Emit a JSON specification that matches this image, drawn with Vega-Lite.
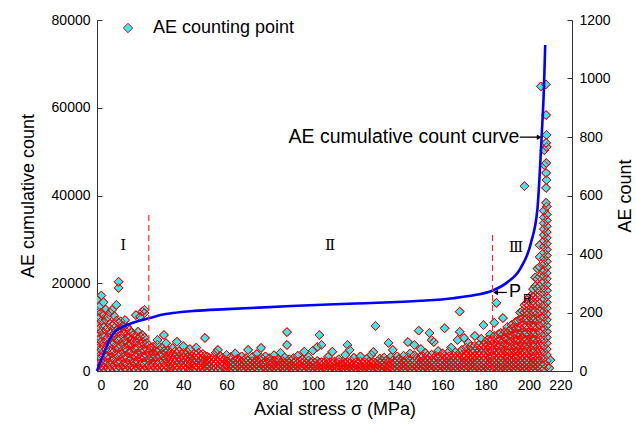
{
"$schema":"https://vega.github.io/schema/vega-lite/v6.json",
"autosize":"none",
"width":475,"height":351,
"padding":{"left":97,"top":20,"right":64,"bottom":54},
"config":{"font":"Liberation Sans","view":{"stroke":null},
"axis":{"grid":false,"domainColor":"#333","tickColor":"#333","labelColor":"#000","titleColor":"#000","labelFontSize":14,"titleFontSize":18,"titleFontWeight":"normal","tickSize":-5,"labelPadding":12,"format":"d"}},
"datasets":{
"pts":[
{"s":0,"n":2},{"s":0,"n":18},{"s":0,"n":40},{"s":0,"n":65},{"s":0,"n":95},{"s":0,"n":130},{"s":0,"n":165},{"s":0,"n":205},{"s":0,"n":245},
{"s":1,"n":6},{"s":1,"n":25},{"s":1,"n":50},{"s":1,"n":80},{"s":1,"n":110},{"s":1,"n":145},{"s":1,"n":180},{"s":1,"n":220},
{"s":2,"n":4},{"s":2,"n":20},{"s":2,"n":45},{"s":2,"n":72},{"s":2,"n":100},{"s":2,"n":135},{"s":2,"n":170},{"s":2,"n":200},{"s":2,"n":258},
{"s":3,"n":8},{"s":3,"n":30},{"s":3,"n":55},{"s":3,"n":85},{"s":3,"n":118},{"s":3,"n":150},{"s":3,"n":190},{"s":3,"n":235},
{"s":4,"n":3},{"s":4,"n":22},{"s":4,"n":48},{"s":4,"n":75},{"s":4,"n":105},{"s":4,"n":140},{"s":4,"n":175},{"s":4,"n":210},
{"s":5,"n":10},{"s":5,"n":28},{"s":5,"n":52},{"s":5,"n":88},{"s":5,"n":115},{"s":5,"n":148},{"s":5,"n":185},
{"s":6,"n":5},{"s":6,"n":24},{"s":6,"n":46},{"s":6,"n":70},{"s":6,"n":98},{"s":6,"n":130},{"s":6,"n":162},{"s":6,"n":200},
{"s":7,"n":12},{"s":7,"n":33},{"s":7,"n":60},{"s":7,"n":90},{"s":7,"n":120},{"s":7,"n":155},{"s":7,"n":209},
{"s":8,"n":2},{"s":8,"n":20},{"s":8,"n":42},{"s":8,"n":68},{"s":8,"n":95},{"s":8,"n":128},{"s":8,"n":160},{"s":8,"n":188},
{"s":9,"n":9},{"s":9,"n":30},{"s":9,"n":55},{"s":9,"n":82},{"s":9,"n":110},{"s":9,"n":140},{"s":9,"n":172},{"s":9,"n":226},
{"s":10,"n":4},{"s":10,"n":26},{"s":10,"n":50},{"s":10,"n":78},{"s":10,"n":105},{"s":10,"n":135},{"s":10,"n":165},{"s":10,"n":284},{"s":10,"n":305},
{"s":11,"n":11},{"s":11,"n":32},{"s":11,"n":58},{"s":11,"n":86},{"s":11,"n":112},{"s":11,"n":145},{"s":11,"n":170},
{"s":12,"n":3},{"s":12,"n":22},{"s":12,"n":47},{"s":12,"n":73},{"s":12,"n":100},{"s":12,"n":128},{"s":12,"n":155},
{"s":13,"n":8},{"s":13,"n":28},{"s":13,"n":52},{"s":13,"n":80},{"s":13,"n":108},{"s":13,"n":138},{"s":13,"n":174},
{"s":14,"n":5},{"s":14,"n":24},{"s":14,"n":45},{"s":14,"n":70},{"s":14,"n":96},{"s":14,"n":125},{"s":14,"n":150},
{"s":15,"n":12},{"s":15,"n":34},{"s":15,"n":60},{"s":15,"n":88},{"s":15,"n":115},{"s":15,"n":140},
{"s":16,"n":2},{"s":16,"n":20},{"s":16,"n":43},{"s":16,"n":66},{"s":16,"n":92},{"s":16,"n":106},{"s":16,"n":130},
{"s":17,"n":9},{"s":17,"n":30},{"s":17,"n":54},{"s":17,"n":78},{"s":17,"n":104},{"s":17,"n":125},
{"s":18,"n":4},{"s":18,"n":25},{"s":18,"n":48},{"s":18,"n":72},{"s":18,"n":98},{"s":18,"n":120},{"s":18,"n":191},
{"s":19,"n":10},{"s":19,"n":32},{"s":19,"n":56},{"s":19,"n":80},{"s":19,"n":110},{"s":19,"n":134},
{"s":20,"n":3},{"s":20,"n":22},{"s":20,"n":45},{"s":20,"n":68},{"s":20,"n":94},{"s":20,"n":118},{"s":20,"n":185},
{"s":21,"n":8},{"s":21,"n":28},{"s":21,"n":50},{"s":21,"n":75},{"s":21,"n":100},{"s":21,"n":123},{"s":21,"n":203},
{"s":22,"n":5},{"s":22,"n":24},{"s":22,"n":46},{"s":22,"n":70},{"s":22,"n":92},{"s":22,"n":114},{"s":22,"n":198},{"s":22,"n":209},
{"s":23,"n":11},{"s":23,"n":30},{"s":23,"n":52},{"s":23,"n":74},{"s":23,"n":96},
{"s":24,"n":2},{"s":24,"n":20},{"s":24,"n":42},{"s":24,"n":64},{"s":24,"n":88},
{"s":25,"n":7},{"s":25,"n":26},{"s":25,"n":48},{"s":25,"n":70},{"s":25,"n":78},
{"s":26,"n":3},{"s":26,"n":20},{"s":26,"n":40},{"s":26,"n":60},{"s":26,"n":83},
{"s":27,"n":9},{"s":27,"n":28},{"s":27,"n":48},{"s":27,"n":70},
{"s":28,"n":5},{"s":28,"n":22},{"s":28,"n":44},{"s":28,"n":66},{"s":28,"n":90},{"s":28,"n":106},
{"s":29,"n":12},{"s":29,"n":30},{"s":29,"n":52},{"s":29,"n":72},
{"s":30,"n":2},{"s":30,"n":18},{"s":30,"n":38},{"s":30,"n":58},{"s":30,"n":80},
{"s":31,"n":8},{"s":31,"n":26},{"s":31,"n":46},{"s":31,"n":68},{"s":31,"n":123},
{"s":32,"n":4},{"s":32,"n":22},{"s":32,"n":42},{"s":32,"n":62},{"s":32,"n":95},
{"s":33,"n":10},{"s":33,"n":30},{"s":33,"n":50},{"s":33,"n":70},
{"s":34,"n":6},{"s":34,"n":24},{"s":34,"n":44},{"s":34,"n":64},
{"s":35,"n":2},{"s":35,"n":18},{"s":35,"n":36},{"s":35,"n":56},{"s":35,"n":78},
{"s":36,"n":9},{"s":36,"n":28},{"s":36,"n":46},{"s":36,"n":66},
{"s":37,"n":4},{"s":37,"n":20},{"s":37,"n":40},{"s":37,"n":60},{"s":37,"n":100},
{"s":38,"n":11},{"s":38,"n":30},{"s":38,"n":48},{"s":38,"n":68},
{"s":39,"n":5},{"s":39,"n":22},{"s":39,"n":40},{"s":39,"n":58},
{"s":40,"n":8},{"s":40,"n":26},{"s":40,"n":44},{"s":40,"n":62},{"s":40,"n":85},
{"s":41,"n":3},{"s":41,"n":18},{"s":41,"n":36},{"s":41,"n":54},
{"s":42,"n":10},{"s":42,"n":28},{"s":42,"n":46},{"s":42,"n":64},
{"s":43,"n":6},{"s":43,"n":22},{"s":43,"n":40},{"s":43,"n":56},{"s":43,"n":75},
{"s":44,"n":2},{"s":44,"n":18},{"s":44,"n":34},{"s":44,"n":52},
{"s":45,"n":9},{"s":45,"n":26},{"s":45,"n":44},{"s":45,"n":60},
{"s":46,"n":4},{"s":46,"n":20},{"s":46,"n":38},{"s":46,"n":55},{"s":46,"n":80},
{"s":47,"n":12},{"s":47,"n":28},{"s":47,"n":46},{"s":47,"n":62},
{"s":48,"n":5},{"s":48,"n":22},{"s":48,"n":38},{"s":48,"n":54},
{"s":49,"n":8},{"s":49,"n":24},{"s":49,"n":42},{"s":49,"n":58},
{"s":50,"n":3},{"s":50,"n":18},{"s":50,"n":36},{"s":50,"n":52},{"s":50,"n":113},
{"s":51,"n":6},{"s":51,"n":20},{"s":51,"n":36},{"s":51,"n":50},
{"s":52,"n":2},{"s":52,"n":16},{"s":52,"n":30},{"s":52,"n":44},
{"s":53,"n":9},{"s":53,"n":24},{"s":53,"n":38},
{"s":54,"n":4},{"s":54,"n":18},{"s":54,"n":32},{"s":54,"n":48},
{"s":55,"n":11},{"s":55,"n":26},{"s":55,"n":40},{"s":55,"n":62},
{"s":56,"n":5},{"s":56,"n":18},{"s":56,"n":34},{"s":56,"n":72},
{"s":57,"n":8},{"s":57,"n":22},{"s":57,"n":38},{"s":57,"n":52},
{"s":58,"n":3},{"s":58,"n":16},{"s":58,"n":30},{"s":58,"n":44},
{"s":59,"n":10},{"s":59,"n":24},{"s":59,"n":40},
{"s":60,"n":6},{"s":60,"n":20},{"s":60,"n":34},{"s":60,"n":55},
{"s":61,"n":2},{"s":61,"n":15},{"s":61,"n":30},
{"s":62,"n":9},{"s":62,"n":24},{"s":62,"n":38},{"s":62,"n":48},
{"s":63,"n":4},{"s":63,"n":18},{"s":63,"n":32},
{"s":64,"n":7},{"s":64,"n":22},{"s":64,"n":36},{"s":64,"n":60},
{"s":65,"n":3},{"s":65,"n":16},{"s":65,"n":28},{"s":65,"n":42},
{"s":66,"n":10},{"s":66,"n":24},{"s":66,"n":38},
{"s":67,"n":5},{"s":67,"n":18},{"s":67,"n":32},{"s":67,"n":50},
{"s":68,"n":8},{"s":68,"n":22},{"s":68,"n":36},
{"s":69,"n":2},{"s":69,"n":14},{"s":69,"n":28},{"s":69,"n":44},
{"s":70,"n":9},{"s":70,"n":22},{"s":70,"n":36},{"s":70,"n":72},
{"s":71,"n":4},{"s":71,"n":18},{"s":71,"n":30},
{"s":72,"n":7},{"s":72,"n":20},{"s":72,"n":34},{"s":72,"n":48},
{"s":73,"n":3},{"s":73,"n":15},{"s":73,"n":28},
{"s":74,"n":10},{"s":74,"n":24},{"s":74,"n":38},{"s":74,"n":58},
{"s":75,"n":5},{"s":75,"n":18},{"s":75,"n":30},
{"s":76,"n":8},{"s":76,"n":22},{"s":76,"n":36},{"s":76,"n":46},{"s":76,"n":79},
{"s":77,"n":2},{"s":77,"n":14},{"s":77,"n":26},
{"s":78,"n":9},{"s":78,"n":22},{"s":78,"n":34},{"s":78,"n":50},
{"s":79,"n":4},{"s":79,"n":16},{"s":79,"n":30},
{"s":80,"n":7},{"s":80,"n":20},{"s":80,"n":32},{"s":80,"n":44},
{"s":81,"n":3},{"s":81,"n":14},{"s":81,"n":26},
{"s":82,"n":10},{"s":82,"n":22},{"s":82,"n":36},{"s":82,"n":54},
{"s":83,"n":5},{"s":83,"n":18},{"s":83,"n":30},
{"s":84,"n":8},{"s":84,"n":20},{"s":84,"n":32},{"s":84,"n":42},
{"s":85,"n":2},{"s":85,"n":14},{"s":85,"n":28},{"s":85,"n":62},
{"s":86,"n":9},{"s":86,"n":22},{"s":86,"n":34},
{"s":87,"n":4},{"s":87,"n":16},{"s":87,"n":30},{"s":87,"n":46},
{"s":88,"n":7},{"s":88,"n":20},{"s":88,"n":32},{"s":88,"n":89},{"s":88,"n":133},
{"s":89,"n":3},{"s":89,"n":14},{"s":89,"n":26},{"s":89,"n":40},
{"s":90,"n":10},{"s":90,"n":22},{"s":90,"n":36},
{"s":91,"n":5},{"s":91,"n":16},{"s":91,"n":28},{"s":91,"n":44},
{"s":92,"n":8},{"s":92,"n":20},{"s":92,"n":32},
{"s":93,"n":2},{"s":93,"n":14},{"s":93,"n":26},{"s":93,"n":52},
{"s":94,"n":9},{"s":94,"n":22},{"s":94,"n":34},
{"s":95,"n":4},{"s":95,"n":16},{"s":95,"n":28},{"s":95,"n":40},
{"s":96,"n":7},{"s":96,"n":20},{"s":96,"n":32},{"s":96,"n":66},
{"s":97,"n":3},{"s":97,"n":14},{"s":97,"n":26},
{"s":98,"n":10},{"s":98,"n":22},{"s":98,"n":36},{"s":98,"n":48},
{"s":99,"n":5},{"s":99,"n":16},{"s":99,"n":30},
{"s":100,"n":8},{"s":100,"n":20},{"s":100,"n":32},{"s":100,"n":70},
{"s":101,"n":3},{"s":101,"n":14},{"s":101,"n":28},
{"s":102,"n":9},{"s":102,"n":20},{"s":102,"n":34},{"s":102,"n":82},
{"s":103,"n":4},{"s":103,"n":16},{"s":103,"n":28},{"s":103,"n":123},
{"s":104,"n":7},{"s":104,"n":18},{"s":104,"n":30},{"s":104,"n":89},
{"s":105,"n":2},{"s":105,"n":12},{"s":105,"n":26},
{"s":106,"n":10},{"s":106,"n":22},{"s":106,"n":34},
{"s":107,"n":5},{"s":107,"n":16},{"s":107,"n":28},{"s":107,"n":48},
{"s":108,"n":8},{"s":108,"n":18},{"s":108,"n":30},
{"s":109,"n":3},{"s":109,"n":14},{"s":109,"n":26},{"s":109,"n":66},
{"s":110,"n":9},{"s":110,"n":20},{"s":110,"n":32},
{"s":111,"n":4},{"s":111,"n":16},{"s":111,"n":28},
{"s":112,"n":7},{"s":112,"n":18},{"s":112,"n":30},{"s":112,"n":40},
{"s":113,"n":2},{"s":113,"n":12},{"s":113,"n":24},
{"s":114,"n":10},{"s":114,"n":22},{"s":114,"n":32},
{"s":115,"n":5},{"s":115,"n":16},{"s":115,"n":28},{"s":115,"n":55},
{"s":116,"n":8},{"s":116,"n":18},{"s":116,"n":30},{"s":116,"n":89},
{"s":117,"n":3},{"s":117,"n":14},{"s":117,"n":26},{"s":117,"n":72},
{"s":118,"n":9},{"s":118,"n":20},{"s":118,"n":32},
{"s":119,"n":4},{"s":119,"n":14},{"s":119,"n":26},{"s":119,"n":45},
{"s":120,"n":7},{"s":120,"n":18},{"s":120,"n":30},
{"s":121,"n":2},{"s":121,"n":12},{"s":121,"n":24},
{"s":122,"n":10},{"s":122,"n":20},{"s":122,"n":32},{"s":122,"n":50},
{"s":123,"n":5},{"s":123,"n":16},{"s":123,"n":28},
{"s":124,"n":8},{"s":124,"n":18},{"s":124,"n":30},
{"s":125,"n":3},{"s":125,"n":14},{"s":125,"n":26},{"s":125,"n":42},
{"s":126,"n":9},{"s":126,"n":20},{"s":126,"n":32},
{"s":127,"n":4},{"s":127,"n":16},{"s":127,"n":28},{"s":127,"n":55},
{"s":128,"n":7},{"s":128,"n":18},{"s":128,"n":30},{"s":128,"n":65},
{"s":129,"n":2},{"s":129,"n":12},{"s":129,"n":26},{"s":129,"n":154},
{"s":130,"n":10},{"s":130,"n":22},{"s":130,"n":34},
{"s":131,"n":5},{"s":131,"n":16},{"s":131,"n":30},{"s":131,"n":42},
{"s":132,"n":8},{"s":132,"n":20},{"s":132,"n":34},
{"s":133,"n":3},{"s":133,"n":14},{"s":133,"n":28},{"s":133,"n":46},
{"s":134,"n":10},{"s":134,"n":22},{"s":134,"n":36},
{"s":135,"n":6},{"s":135,"n":18},{"s":135,"n":32},{"s":135,"n":96},
{"s":136,"n":2},{"s":136,"n":14},{"s":136,"n":28},{"s":136,"n":48},
{"s":137,"n":9},{"s":137,"n":22},{"s":137,"n":36},{"s":137,"n":72},
{"s":138,"n":4},{"s":138,"n":16},{"s":138,"n":30},
{"s":139,"n":7},{"s":139,"n":20},{"s":139,"n":34},{"s":139,"n":50},
{"s":140,"n":3},{"s":140,"n":14},{"s":140,"n":28},{"s":140,"n":42},
{"s":141,"n":10},{"s":141,"n":22},{"s":141,"n":36},
{"s":142,"n":5},{"s":142,"n":18},{"s":142,"n":32},{"s":142,"n":52},
{"s":143,"n":8},{"s":143,"n":20},{"s":143,"n":34},
{"s":144,"n":2},{"s":144,"n":14},{"s":144,"n":28},{"s":144,"n":46},{"s":144,"n":99},
{"s":145,"n":9},{"s":145,"n":22},{"s":145,"n":36},{"s":145,"n":60},
{"s":146,"n":4},{"s":146,"n":16},{"s":146,"n":30},
{"s":147,"n":7},{"s":147,"n":20},{"s":147,"n":34},{"s":147,"n":54},{"s":147,"n":89},
{"s":148,"n":3},{"s":148,"n":14},{"s":148,"n":28},{"s":148,"n":44},
{"s":149,"n":10},{"s":149,"n":22},{"s":149,"n":36},{"s":149,"n":138},
{"s":150,"n":5},{"s":150,"n":18},{"s":150,"n":32},{"s":150,"n":50},{"s":150,"n":75},
{"s":151,"n":8},{"s":151,"n":20},{"s":151,"n":34},{"s":151,"n":50},
{"s":152,"n":3},{"s":152,"n":14},{"s":152,"n":28},{"s":152,"n":42},{"s":152,"n":62},
{"s":153,"n":10},{"s":153,"n":22},{"s":153,"n":36},{"s":153,"n":52},
{"s":154,"n":5},{"s":154,"n":18},{"s":154,"n":30},{"s":154,"n":46},{"s":154,"n":130},
{"s":155,"n":8},{"s":155,"n":20},{"s":155,"n":34},{"s":155,"n":56},{"s":155,"n":106},
{"s":156,"n":2},{"s":156,"n":14},{"s":156,"n":28},{"s":156,"n":44},{"s":156,"n":99},
{"s":157,"n":9},{"s":157,"n":22},{"s":157,"n":36},{"s":157,"n":52},
{"s":158,"n":4},{"s":158,"n":16},{"s":158,"n":30},{"s":158,"n":48},{"s":158,"n":68},
{"s":159,"n":7},{"s":159,"n":20},{"s":159,"n":34},{"s":159,"n":50},
{"s":160,"n":3},{"s":160,"n":14},{"s":160,"n":28},{"s":160,"n":44},{"s":160,"n":60},
{"s":161,"n":10},{"s":161,"n":22},{"s":161,"n":36},{"s":161,"n":52},{"s":161,"n":146},
{"s":162,"n":5},{"s":162,"n":18},{"s":162,"n":32},{"s":162,"n":48},
{"s":163,"n":8},{"s":163,"n":20},{"s":163,"n":34},{"s":163,"n":50},{"s":163,"n":66},
{"s":164,"n":2},{"s":164,"n":14},{"s":164,"n":28},{"s":164,"n":44},{"s":164,"n":80},
{"s":165,"n":9},{"s":165,"n":22},{"s":165,"n":36},{"s":165,"n":52},
{"s":166,"n":4},{"s":166,"n":16},{"s":166,"n":30},{"s":166,"n":46},{"s":166,"n":64},
{"s":167,"n":7},{"s":167,"n":20},{"s":167,"n":34},{"s":167,"n":50},{"s":167,"n":106},
{"s":168,"n":3},{"s":168,"n":14},{"s":168,"n":28},{"s":168,"n":44},{"s":168,"n":62},{"s":168,"n":134},{"s":168,"n":203},
{"s":169,"n":10},{"s":169,"n":22},{"s":169,"n":36},{"s":169,"n":54},{"s":169,"n":72},
{"s":170,"n":5},{"s":170,"n":18},{"s":170,"n":32},{"s":170,"n":48},{"s":170,"n":113},
{"s":171,"n":8},{"s":171,"n":20},{"s":171,"n":34},{"s":171,"n":50},{"s":171,"n":66},{"s":171,"n":80},
{"s":172,"n":3},{"s":172,"n":14},{"s":172,"n":28},{"s":172,"n":44},{"s":172,"n":60},{"s":172,"n":96},
{"s":173,"n":10},{"s":173,"n":22},{"s":173,"n":36},{"s":173,"n":52},{"s":173,"n":70},{"s":173,"n":84},
{"s":174,"n":5},{"s":174,"n":18},{"s":174,"n":32},{"s":174,"n":48},{"s":174,"n":64},
{"s":175,"n":8},{"s":175,"n":20},{"s":175,"n":34},{"s":175,"n":50},{"s":175,"n":68},{"s":175,"n":86},{"s":175,"n":120},
{"s":176,"n":2},{"s":176,"n":14},{"s":176,"n":28},{"s":176,"n":44},{"s":176,"n":60},{"s":176,"n":78},
{"s":177,"n":9},{"s":177,"n":22},{"s":177,"n":36},{"s":177,"n":52},{"s":177,"n":70},{"s":177,"n":90},
{"s":178,"n":4},{"s":178,"n":16},{"s":178,"n":30},{"s":178,"n":46},{"s":178,"n":62},{"s":178,"n":80},{"s":178,"n":110},
{"s":179,"n":7},{"s":179,"n":20},{"s":179,"n":34},{"s":179,"n":50},{"s":179,"n":68},{"s":179,"n":88},{"s":179,"n":157},
{"s":180,"n":3},{"s":180,"n":14},{"s":180,"n":28},{"s":180,"n":44},{"s":180,"n":62},{"s":180,"n":82},{"s":180,"n":100},
{"s":181,"n":10},{"s":181,"n":22},{"s":181,"n":36},{"s":181,"n":52},{"s":181,"n":70},{"s":181,"n":88},{"s":181,"n":108},
{"s":182,"n":5},{"s":182,"n":18},{"s":182,"n":32},{"s":182,"n":48},{"s":182,"n":66},{"s":182,"n":84},{"s":182,"n":104},{"s":182,"n":125},
{"s":183,"n":8},{"s":183,"n":20},{"s":183,"n":34},{"s":183,"n":50},{"s":183,"n":68},{"s":183,"n":86},{"s":183,"n":106},
{"s":184,"n":2},{"s":184,"n":14},{"s":184,"n":28},{"s":184,"n":44},{"s":184,"n":62},{"s":184,"n":80},{"s":184,"n":100},{"s":184,"n":120},{"s":184,"n":165},
{"s":185,"n":9},{"s":185,"n":22},{"s":185,"n":36},{"s":185,"n":52},{"s":185,"n":70},{"s":185,"n":88},{"s":185,"n":110},{"s":185,"n":233},
{"s":186,"n":4},{"s":186,"n":16},{"s":186,"n":30},{"s":186,"n":46},{"s":186,"n":64},{"s":186,"n":84},{"s":186,"n":104},{"s":186,"n":126},
{"s":187,"n":7},{"s":187,"n":20},{"s":187,"n":34},{"s":187,"n":50},{"s":187,"n":68},{"s":187,"n":88},{"s":187,"n":108},{"s":187,"n":130},
{"s":188,"n":3},{"s":188,"n":14},{"s":188,"n":28},{"s":188,"n":44},{"s":188,"n":62},{"s":188,"n":82},{"s":188,"n":102},{"s":188,"n":124},{"s":188,"n":181},
{"s":189,"n":10},{"s":189,"n":22},{"s":189,"n":36},{"s":189,"n":52},{"s":189,"n":70},{"s":189,"n":90},{"s":189,"n":112},{"s":189,"n":134},
{"s":190,"n":5},{"s":190,"n":18},{"s":190,"n":32},{"s":190,"n":48},{"s":190,"n":66},{"s":190,"n":86},{"s":190,"n":108},{"s":190,"n":130},{"s":190,"n":150},
{"s":191,"n":8},{"s":191,"n":20},{"s":191,"n":34},{"s":191,"n":50},{"s":191,"n":66},{"s":191,"n":84},{"s":191,"n":102},{"s":191,"n":122},{"s":191,"n":140},
{"s":192,"n":3},{"s":192,"n":14},{"s":192,"n":28},{"s":192,"n":44},{"s":192,"n":62},{"s":192,"n":80},{"s":192,"n":100},{"s":192,"n":120},{"s":192,"n":145},{"s":192,"n":157},
{"s":193,"n":10},{"s":193,"n":22},{"s":193,"n":36},{"s":193,"n":52},{"s":193,"n":70},{"s":193,"n":88},{"s":193,"n":108},{"s":193,"n":128},{"s":193,"n":150},
{"s":194,"n":5},{"s":194,"n":18},{"s":194,"n":32},{"s":194,"n":48},{"s":194,"n":66},{"s":194,"n":84},{"s":194,"n":104},{"s":194,"n":124},{"s":194,"n":146},{"s":194,"n":168},
{"s":195,"n":8},{"s":195,"n":20},{"s":195,"n":34},{"s":195,"n":50},{"s":195,"n":68},{"s":195,"n":86},{"s":195,"n":106},{"s":195,"n":128},{"s":195,"n":150},{"s":195,"n":172},
{"s":196,"n":2},{"s":196,"n":14},{"s":196,"n":28},{"s":196,"n":44},{"s":196,"n":62},{"s":196,"n":82},{"s":196,"n":102},{"s":196,"n":124},{"s":196,"n":148},{"s":196,"n":176},{"s":196,"n":200},
{"s":197,"n":9},{"s":197,"n":22},{"s":197,"n":36},{"s":197,"n":52},{"s":197,"n":70},{"s":197,"n":90},{"s":197,"n":110},{"s":197,"n":132},{"s":197,"n":156},{"s":197,"n":180},{"s":197,"n":205},
{"s":198,"n":4},{"s":198,"n":16},{"s":198,"n":30},{"s":198,"n":46},{"s":198,"n":64},{"s":198,"n":84},{"s":198,"n":104},{"s":198,"n":126},{"s":198,"n":150},{"s":198,"n":175},{"s":198,"n":200},{"s":198,"n":225},{"s":198,"n":632},
{"s":199,"n":7},{"s":199,"n":20},{"s":199,"n":34},{"s":199,"n":50},{"s":199,"n":68},{"s":199,"n":88},{"s":199,"n":108},{"s":199,"n":130},{"s":199,"n":154},{"s":199,"n":178},{"s":199,"n":204},{"s":199,"n":230},
{"s":200,"n":3},{"s":200,"n":14},{"s":200,"n":28},{"s":200,"n":44},{"s":200,"n":62},{"s":200,"n":82},{"s":200,"n":102},{"s":200,"n":124},{"s":200,"n":148},{"s":200,"n":172},{"s":200,"n":198},{"s":200,"n":225},{"s":200,"n":250},
{"s":201,"n":10},{"s":201,"n":22},{"s":201,"n":36},{"s":201,"n":52},{"s":201,"n":70},{"s":201,"n":90},{"s":201,"n":110},{"s":201,"n":132},{"s":201,"n":156},{"s":201,"n":180},{"s":201,"n":206},{"s":201,"n":232},{"s":201,"n":258},
{"s":202,"n":5},{"s":202,"n":18},{"s":202,"n":32},{"s":202,"n":48},{"s":202,"n":66},{"s":202,"n":86},{"s":202,"n":106},{"s":202,"n":128},{"s":202,"n":152},{"s":202,"n":176},{"s":202,"n":202},{"s":202,"n":228},{"s":202,"n":255},{"s":202,"n":280},
{"s":203,"n":8},{"s":203,"n":20},{"s":203,"n":34},{"s":203,"n":50},{"s":203,"n":68},{"s":203,"n":88},{"s":203,"n":108},{"s":203,"n":130},{"s":203,"n":154},{"s":203,"n":178},{"s":203,"n":204},{"s":203,"n":230},{"s":203,"n":258},{"s":203,"n":290},{"s":203,"n":320},
{"s":204,"n":2},{"s":204,"n":14},{"s":204,"n":28},{"s":204,"n":44},{"s":204,"n":62},{"s":204,"n":82},{"s":204,"n":102},{"s":204,"n":124},{"s":204,"n":148},{"s":204,"n":172},{"s":204,"n":198},{"s":204,"n":224},{"s":204,"n":252},{"s":204,"n":282},{"s":204,"n":315},{"s":204,"n":350},
{"s":205,"n":9},{"s":205,"n":22},{"s":205,"n":36},{"s":205,"n":52},{"s":205,"n":70},{"s":205,"n":90},{"s":205,"n":110},{"s":205,"n":132},{"s":205,"n":156},{"s":205,"n":180},{"s":205,"n":206},{"s":205,"n":232},{"s":205,"n":260},{"s":205,"n":290},{"s":205,"n":322},{"s":205,"n":356},{"s":205,"n":390},{"s":205,"n":430},
{"s":207,"n":5},{"s":208.3,"n":15},{"s":207,"n":25},{"s":208.3,"n":35},{"s":207,"n":45},{"s":208.3,"n":55},{"s":207,"n":65},{"s":208.3,"n":75},{"s":207,"n":85},{"s":208.3,"n":95},
{"s":207,"n":105},{"s":208.3,"n":115},{"s":207,"n":125},{"s":208.3,"n":135},{"s":207,"n":145},{"s":208.3,"n":155},{"s":207,"n":165},{"s":208.3,"n":175},{"s":207,"n":185},{"s":208.3,"n":195},
{"s":207,"n":205},{"s":208.3,"n":215},{"s":207,"n":225},{"s":208.3,"n":235},{"s":207,"n":245},{"s":208.3,"n":255},{"s":207,"n":265},{"s":208.3,"n":275},{"s":207,"n":285},{"s":208.3,"n":295},
{"s":207,"n":305},{"s":208.3,"n":315},{"s":207,"n":325},{"s":208.3,"n":335},{"s":207,"n":345},{"s":208.3,"n":355},{"s":207,"n":365},{"s":208.3,"n":375},{"s":207,"n":385},{"s":208.3,"n":395},
{"s":207,"n":405},{"s":208.3,"n":415},{"s":207,"n":425},{"s":208.3,"n":435},{"s":207,"n":445},{"s":208.3,"n":455},{"s":207,"n":465},{"s":208.3,"n":475},{"s":207,"n":485},{"s":208.3,"n":495},
{"s":207,"n":505},{"s":208.3,"n":515},{"s":207,"n":525},{"s":208.3,"n":535},{"s":207,"n":548},{"s":208.3,"n":562},{"s":208,"n":575},
{"s":208,"n":626},{"s":208.2,"n":653},{"s":208,"n":677},{"s":207.2,"n":704},{"s":208.1,"n":711},{"s":207.2,"n":755},{"s":208.3,"n":766},{"s":208,"n":780},{"s":208.2,"n":807},{"s":208,"n":875},{"s":205.6,"n":973},{"s":207.9,"n":980},
{"s":210,"n":37},{"s":209.5,"n":10}
],
"cum":[
{"s":0,"c":0},{"s":1,"c":1300},{"s":2,"c":2600},{"s":4,"c":5000},{"s":6,"c":7300},{"s":8,"c":8800},{"s":10,"c":9600},{"s":12,"c":10100},{"s":16,"c":10900},{"s":20,"c":11500},{"s":24,"c":12000},{"s":30,"c":12800},{"s":35,"c":13200},{"s":45,"c":13700},{"s":60,"c":14100},{"s":90,"c":14800},{"s":120,"c":15400},{"s":150,"c":16000},{"s":165,"c":16600},{"s":175,"c":17300},{"s":183,"c":18300},{"s":190,"c":20200},{"s":196,"c":23300},{"s":201,"c":29200},{"s":204,"c":37000},{"s":205,"c":44500},{"s":206,"c":54000},{"s":207,"c":64500},{"s":207.6,"c":74300}
],
"rules":[{"s":24,"a":0,"b":35800},{"s":183.2,"a":0,"b":31700}],
"roman":[{"s":12.1,"v":28700,"t":"Ⅰ"},{"s":108,"v":28700,"t":"Ⅱ"},{"s":194,"v":28300,"t":"Ⅲ"}],
"arrows":[{"a":195.8,"b":204.6,"v":53300},{"a":189.8,"b":184.2,"v":17900}],
"heads":[{"s":204.8,"v":53300,"d":"triangle-right"},{"s":184.6,"v":17900,"d":"triangle-left"}],
"curvelabel":[{"s":195.6,"v":53300,"t":"AE cumulative count curve"}],
"plabel":[{"s":190.8,"v":17900,"t":"P"}],
"subs":[{"s":197.3,"v":16300,"t":"R"}]
},
"layer":[
{"data":{"name":"pts"},
 "layer":[
 {"mark":{"type":"point","shape":"diamond","filled":true,"size":78,"stroke":"#ff0000","strokeWidth":1,"opacity":1,"clip":true},
 "encoding":{
  "x":{"field":"s","type":"quantitative","scale":{"domain":[0,220],"nice":false},"axis":{"values":[0,20,40,60,80,100,120,140,160,180,200,220],"title":"Axial stress σ (MPa)","titlePadding":8}},
  "y":{"field":"n","type":"quantitative","scale":{"domain":[0,1200],"nice":false},"axis":{"orient":"right","values":[0,200,400,600,800,1000,1200],"title":"AE count","titleAngle":-90,"titlePadding":24}},
  "fill":{"datum":"AE counting point","type":"nominal","scale":{"range":["#2af0f0"]},
   "legend":{"title":null,"orient":"none","legendX":22,"legendY":-1,"symbolType":"diamond","symbolSize":90,"symbolStrokeColor":"#ff0000","symbolStrokeWidth":1,"labelFontSize":18,"labelOffset":16,"labelColor":"#000"}}
 }},
 {"mark":{"type":"point","shape":"diamond","filled":false,"size":78,"stroke":"#ff0000","strokeWidth":1,"opacity":1,"clip":true},
 "encoding":{
  "x":{"field":"s","type":"quantitative"},
  "y":{"field":"n","type":"quantitative"}
 }}
 ]},
{"layer":[
 {"data":{"name":"cum"},"mark":{"type":"line","color":"#0000ff","strokeWidth":2.6,"interpolate":"monotone"},
  "encoding":{"x":{"field":"s","type":"quantitative"},
   "y":{"field":"c","type":"quantitative","scale":{"domain":[0,80000],"nice":false},"axis":{"orient":"left","values":[0,20000,40000,60000,80000],"title":"AE cumulative count","titlePadding":14}}}},
 {"data":{"name":"rules"},"mark":{"type":"rule","color":"#ff3030","strokeWidth":1.2,"strokeDash":[6,4]},
  "encoding":{"x":{"field":"s","type":"quantitative"},"y":{"field":"a","type":"quantitative"},"y2":{"field":"b"}}},
 {"data":{"name":"roman"},"mark":{"type":"text","font":"DejaVu Serif","fontSize":15,"color":"#000","baseline":"middle","align":"center"},
  "encoding":{"x":{"field":"s","type":"quantitative"},"y":{"field":"v","type":"quantitative"},"text":{"field":"t"}}},
 {"data":{"name":"arrows"},"mark":{"type":"rule","color":"#000","strokeWidth":1.3},
  "encoding":{"x":{"field":"a","type":"quantitative"},"x2":{"field":"b"},"y":{"field":"v","type":"quantitative"}}},
 {"data":{"name":"heads"},"mark":{"type":"point","filled":true,"color":"#000","size":30,"opacity":1},
  "encoding":{"x":{"field":"s","type":"quantitative"},"y":{"field":"v","type":"quantitative"},"shape":{"field":"d","type":"nominal","scale":null}}},
 {"data":{"name":"curvelabel"},"mark":{"type":"text","fontSize":19.5,"color":"#000","baseline":"middle","align":"right"},
  "encoding":{"x":{"field":"s","type":"quantitative"},"y":{"field":"v","type":"quantitative"},"text":{"field":"t"}}},
 {"data":{"name":"plabel"},"mark":{"type":"text","fontSize":18,"color":"#000","baseline":"middle","align":"left"},
  "encoding":{"x":{"field":"s","type":"quantitative"},"y":{"field":"v","type":"quantitative"},"text":{"field":"t"}}},
 {"data":{"name":"subs"},"mark":{"type":"text","fontSize":12,"color":"#000","baseline":"middle","align":"left"},
  "encoding":{"x":{"field":"s","type":"quantitative"},"y":{"field":"v","type":"quantitative"},"text":{"field":"t"}}}
]}
],
"resolve":{"scale":{"y":"independent"},"axis":{"y":"independent"}}
}
